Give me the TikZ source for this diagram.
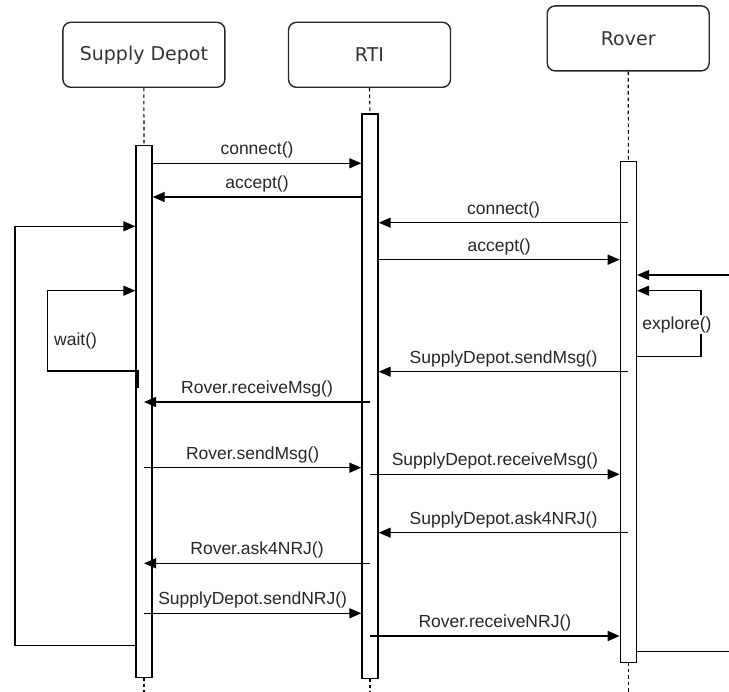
\documentclass[tikz,border=0pt]{standalone}
\usepackage{fontspec}
\setmainfont{Liberation Sans}
\newfontfamily\headfont{DejaVu Sans}
\usetikzlibrary{arrows.meta}

\begin{document}
\begin{tikzpicture}[x=1pt, y=-1pt, line width=1.4pt,
    head/.style={draw=black!85, rounded corners=8pt, minimum width=162pt,
      minimum height=65pt, text=black!80, font=\headfont\fontsize{19}{22}\selectfont},
    bar/.style={draw, fill=white, minimum width=16pt, inner sep=0pt},
    life/.style={line width=1.1pt, dash pattern=on 3.5pt off 3pt},
    msg/.style={-{Triangle[length=12pt,width=10pt]}},
    lbl/.style={midway, yshift=13pt, inner sep=0pt, text=black!85,
      font=\fontsize{17.5}{20}\selectfont}]
    \useasboundingbox (0,0) rectangle (729,692);
    \begin{scope}
      \node[head] (sd)  at (143.9,54.8) {Supply Depot};
      \node[head] (rti) at (369.5,54.8) {RTI};
      \node[head] (rov) at (628.2,38.4) {Rover};

      \draw[life] (sd.south)  -- (144,145);
      \draw[life] (rti.south) -- (370,113.3);
      \draw[life] (rov.south) -- (628.4,161);
      \draw[life] (144,677) -- (144,692);
      \draw[life] (370,678) -- (370,692);
      \draw[life] (628.4,662) -- (628.4,692);

      \node[bar, minimum height=532pt, anchor=north] (sdbar) at (144,145) {};
      \node[bar, minimum height=564.7pt, anchor=north] (rtibar) at (370,113.3) {};
      \node[bar, minimum height=501pt, anchor=north] (rovbar) at (628.4,161) {};

      \coordinate (inR)  at (729,275);
      \coordinate (outR) at (729,651.7);

      \draw[msg] (sdbar.east |- 0,163.3) -- (rtibar.west |- 0,163.3) node[lbl] {connect()};
      \draw[msg] (rtibar.west |- 0,197) -- (sdbar.east |- 0,197) node[lbl] {accept()};
      \draw[msg] (rovbar.center |- 0,222.7) -- (rtibar.east |- 0,222.7) node[lbl] {connect()};
      \draw[msg] (rtibar.east |- 0,259.7) -- (rovbar.west |- 0,259.7) node[lbl] {accept()};
      \draw[msg] (inR) -- (rovbar.east |- inR);
      \draw[msg] (rovbar.east |- 0,356.7) -- (701,356.7) -- (701,290.7) -- (rovbar.east |- 0,290.7);
      \node[fill=white, inner sep=1pt, text=black!85, font=\fontsize{17.5}{20}\selectfont] (expl) at (677,324.5) {explore()};
      \draw[msg] (rovbar.center |- 0,371.7) -- (rtibar.east |- 0,371.7) node[lbl] {SupplyDepot.sendMsg()};
      \draw[msg] (rtibar.center |- 0,402) -- (sdbar.center |- 0,402) node[lbl] {Rover.receiveMsg()};
      \draw[msg] (sdbar.center |- 0,467.7) -- (rtibar.west |- 0,467.7) node[lbl] {Rover.sendMsg()};
      \draw[msg] (rtibar.center |- 0,474.3) -- (rovbar.west |- 0,474.3) node[lbl] {SupplyDepot.receiveMsg()};
      \draw[msg] (rovbar.center |- 0,532.7) -- (rtibar.east |- 0,532.7) node[lbl] {SupplyDepot.ask4NRJ()};
      \draw[msg] (rtibar.center |- 0,563.3) -- (sdbar.center |- 0,563.3) node[lbl] {Rover.ask4NRJ()};
      \draw[msg] (sdbar.center |- 0,613.3) -- (rtibar.west |- 0,613.3) node[lbl] {SupplyDepot.sendNRJ()};
      \draw[msg] (rtibar.center |- 0,636) -- (rovbar.west |- 0,636) node[lbl] {Rover.receiveNRJ()};
      \draw (rovbar.east |- outR) -- (outR);

      \draw[msg] (sdbar.west |- 0,645.7) -- (15,645.7) -- (15,226.3) -- (sdbar.west |- 0,226.3);
      \draw[msg] (138,387.7) -- (138,371) -- (47.4,371) -- (47.4,290.7) -- (sdbar.west |- 0,290.7);
      \node[inner sep=0pt, text=black!85, font=\fontsize{17.5}{20}\selectfont] (wait) at (75.6,340.7) {wait()};
    \end{scope}
  \end{tikzpicture}
\end{document}
